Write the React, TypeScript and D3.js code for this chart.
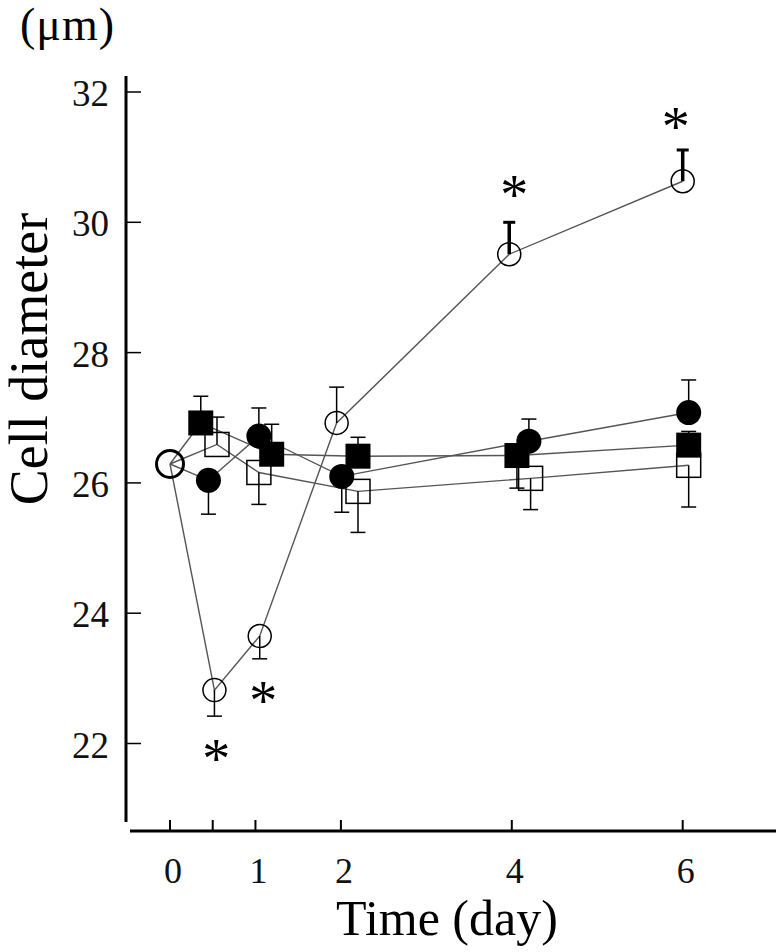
import React from "react";
import * as d3 from "d3";

// ---- data ----
const startDay = 0;
const startValue = 26.29;

const xTickDays = [0, 0.5, 1, 2, 4, 6];
const xLabelDays = [0, 1, 2, 4, 6];
const yTicks = [22, 24, 26, 28, 30, 32];

const openCircleDays = [0.52, 1.05, 1.95, 3.97, 6.0];
const openCircleValues = [22.82, 23.65, 26.92, 29.51, 30.63];
const openCircleErrEnds = [22.42, 23.3, 27.47, 30.0, 31.11];

const filledSquareDays = [0.36, 1.19, 2.2, 4.06, 6.07];
const filledSquareValues = [26.92, 26.44, 26.41, 26.42, 26.58];
const filledSquareErrEnds = [27.33, 26.9, 26.7, 25.92, 26.79];

const filledCircleDays = [0.45, 1.04, 2.01, 4.2, 6.07];
const filledCircleValues = [26.04, 26.72, 26.1, 26.64, 27.08];
const filledCircleErrEnds = [25.52, 27.15, 25.55, 26.98, 27.58];

const openSquareDays = [0.55, 1.04, 2.2, 4.22, 6.07];
const openSquareValues = [26.59, 26.16, 25.87, 26.07, 26.27];
const openSquareErrEnds = [27.01, 25.67, 25.24, 25.59, 25.63];

const asteriskDays = [0.54, 1.09, 4.03, 5.92];
const asteriskValues = [21.88, 22.77, 30.54, 31.59];

type Series = {
  key: string;
  shape: "circle" | "square";
  filled: boolean;
  days: number[];
  values: number[];
  errEnds: number[];
  thickErr?: number[];
};

const series: Series[] = [
  { key: "oc", shape: "circle", filled: false, days: openCircleDays, values: openCircleValues, errEnds: openCircleErrEnds, thickErr: [3, 4] },
  { key: "fs", shape: "square", filled: true, days: filledSquareDays, values: filledSquareValues, errEnds: filledSquareErrEnds },
  { key: "fc", shape: "circle", filled: true, days: filledCircleDays, values: filledCircleValues, errEnds: filledCircleErrEnds },
  { key: "os", shape: "square", filled: false, days: openSquareDays, values: openSquareValues, errEnds: openSquareErrEnds },
];

const W = 779;
const H = 952;
const FONT = "'Liberation Serif', 'Times New Roman', serif";

export default function App() {
  const x = d3.scaleLinear().domain([0, 6]).range([170, 682.7]);
  const y = d3.scaleLinear().domain([22, 32]).range([743.5, 92]);
  const line = d3
    .line<[number, number]>()
    .x((d) => x(d[0]))
    .y((d) => y(d[1]));

  return (
    <svg
      width={W}
      height={H}
      viewBox={`0 0 ${W} ${H}`}
      style={{ position: "absolute", left: 0, top: 0, display: "block", background: "#fff" }}
      fontFamily={FONT}
    >
      <rect width={W} height={H} fill="#fff" />
      {/* axes */}
      <line x1={126} x2={126} y1={76} y2={822} stroke="#000" strokeWidth={3} />
      <line x1={130} x2={776} y1={831} y2={831} stroke="#000" strokeWidth={3} />
      {yTicks.map((t) => (
        <g key={"yt" + t}>
          <line x1={127} x2={141} y1={y(t)} y2={y(t)} stroke="#000" strokeWidth={1.5} />
          <text x={109} y={y(t) + 14} fontSize={37} textAnchor="end" fill="#111">
            {t}
          </text>
        </g>
      ))}
      {xTickDays.map((t) => (
        <line key={"xt" + t} x1={x(t)} x2={x(t)} y1={831} y2={820} stroke="#000" strokeWidth={2} />
      ))}
      {xLabelDays.map((t) => (
        <text key={"xl" + t} x={x(t) + 3} y={883} fontSize={36} textAnchor="middle" fill="#111">
          {t}
        </text>
      ))}
      <text x={447} y={935} fontSize={50} textAnchor="middle" fill="#000">
        Time (day)
      </text>
      <text
        transform={`translate(47, 359) rotate(-90)`}
        fontSize={54}
        textAnchor="middle"
        fill="#000"
      >
        Cell diameter
      </text>
      <text x={20} y={40} fontSize={46} fill="#000" letterSpacing={1}>
        (μm)
      </text>

      {/* lines */}
      {series.map((s) => {
        const pts: [number, number][] = [[startDay, startValue], ...s.days.map((d, i) => [d, s.values[i]] as [number, number])];
        return <path key={"l" + s.key} d={line(pts) || ""} fill="none" stroke="#555" strokeWidth={1.4} />;
      })}

      {/* error bars */}
      {series.map((s) =>
        s.days.map((d, i) => {
          const cx = x(d);
          const thick = s.thickErr && s.thickErr.includes(i);
          const sw = thick ? 3.5 : 1.5;
          const half = thick ? 6 : 7.5;
          return (
            <g key={"e" + s.key + i}>
              <line x1={cx} x2={cx} y1={y(s.values[i])} y2={y(s.errEnds[i])} stroke="#000" strokeWidth={sw} />
              <line x1={cx - half} x2={cx + half} y1={y(s.errEnds[i])} y2={y(s.errEnds[i])} stroke="#000" strokeWidth={thick ? 3 : 1.5} />
            </g>
          );
        })
      )}

      {/* markers */}
      {series.map((s) =>
        s.days.map((d, i) => {
          const cx = x(d);
          const cy = y(s.values[i]);
          if (s.shape === "circle") {
            return s.filled ? (
              <circle key={"m" + s.key + i} cx={cx} cy={cy} r={12.5} fill="#000" />
            ) : (
              <circle key={"m" + s.key + i} cx={cx} cy={cy} r={11.5} fill="none" stroke="#000" strokeWidth={1.5} />
            );
          }
          return s.filled ? (
            <rect key={"m" + s.key + i} x={cx - 12.5} y={cy - 12.5} width={25} height={25} fill="#000" />
          ) : (
            <rect key={"m" + s.key + i} x={cx - 12} y={cy - 12} width={24} height={24} fill="none" stroke="#000" strokeWidth={1.5} />
          );
        })
      )}

      {/* start point */}
      <circle cx={x(startDay)} cy={y(startValue)} r={13.5} fill="none" stroke="#000" strokeWidth={3} />

      {/* significance asterisks */}
      {asteriskDays.map((d, i) => (
        <text key={"a" + i} x={x(d)} y={y(asteriskValues[i]) + 27} fontSize={56} textAnchor="middle" fill="#000">
          *
        </text>
      ))}
    </svg>
  );
}
